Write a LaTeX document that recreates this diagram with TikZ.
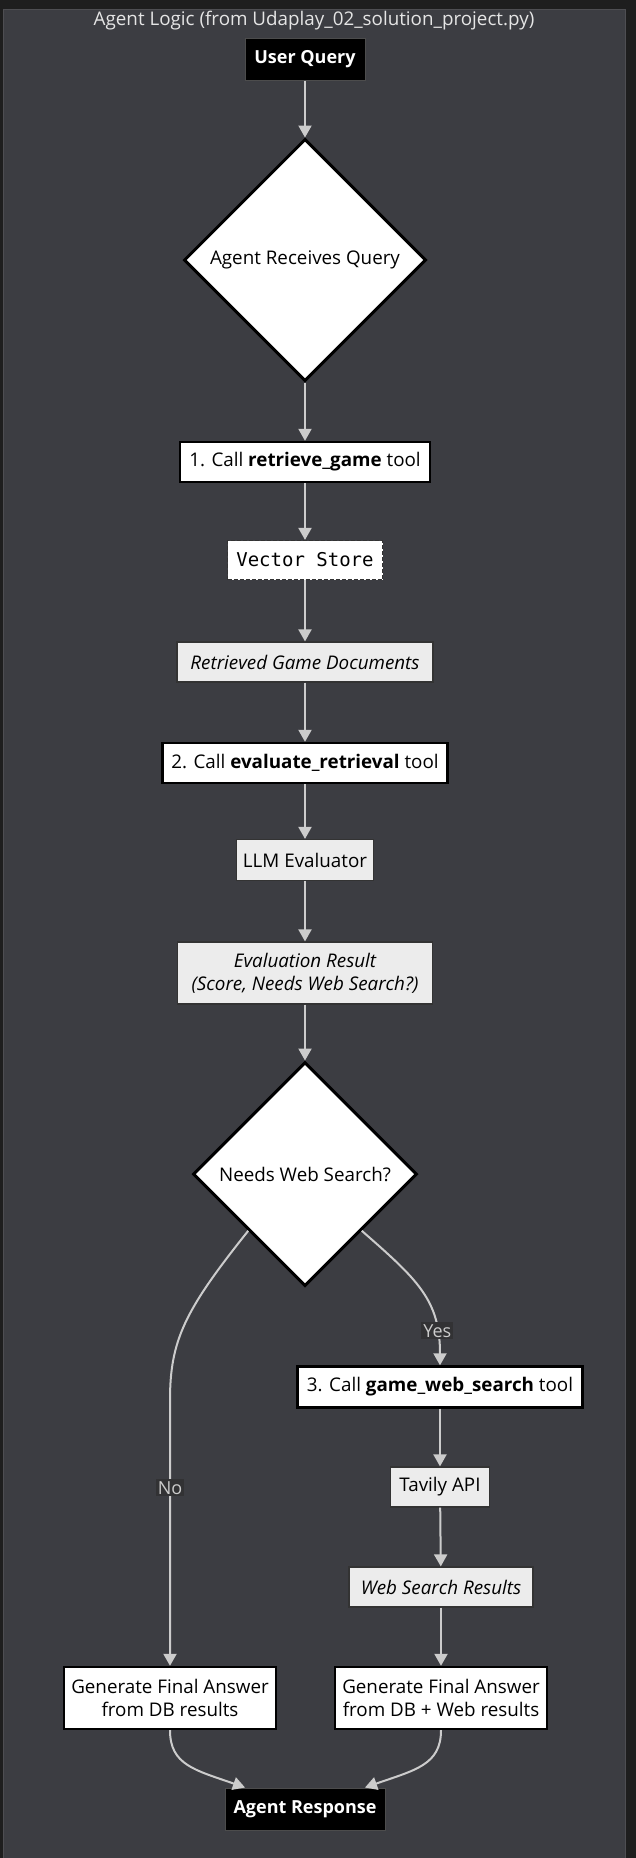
\documentclass[tikz,border=0pt]{standalone}
\usepackage{fontspec}
\setmainfont{Open Sans}
\setmonofont{DejaVu Sans Mono}
\usepackage{tikz}
\usetikzlibrary{shapes.geometric,arrows.meta}

\definecolor{outerbg}{RGB}{30,30,30}
\definecolor{innerbg}{RGB}{60,61,66}
\definecolor{framec}{RGB}{78,78,82}
\definecolor{linec}{RGB}{204,204,204}
\definecolor{datafill}{RGB}{236,236,236}
\definecolor{lblbg}{RGB}{50,50,52}

\begin{document}
\begin{tikzpicture}
    [ x=1pt, y=-1pt, font=\fontsize{18.8}{23}\selectfont,
      every node/.style={align=center, inner sep=0pt},
      step box/.style={draw=black, line width=2.4pt, fill=white, minimum height=40},
      data box/.style={draw=black!80, line width=1.2pt, fill=datafill, minimum height=40},
      term box/.style={draw=black!70, line width=1pt, fill=black, text=white,
                       font=\fontsize{18}{22}\selectfont\bfseries, minimum height=42},
      decision/.style={diamond, aspect=1, draw=black, line width=3pt, fill=white,
                       minimum size=#1},
      flow/.style={draw=linec, line width=2pt, -{Triangle[width=13pt,length=12pt]}},
      lbl/.style={fill=lblbg, text=linec, inner sep=2pt, font=\fontsize{18}{21}\selectfont},
    ]
    % background and frame
    \useasboundingbox (0,0) rectangle (636,1858);
    \fill[outerbg] (0,0) rectangle (636,1858);
    \fill[innerbg] (3.5,9) rectangle (625,1858);
    \draw[framec, line width=1pt] (3.5,1858) -- (3.5,9) -- (625,9) -- (625,1858);
    \node[text=white!90!black] (ttl) at (314,21)
        {Agent Logic (from Udaplay\_02\_solution\_project.py)};

    % main column
    \node[term box, minimum width=120] (uq) at (305,59) {User Query};
    \node[decision=242] (recv) at (305,260) {Agent Receives Query};
    \node[step box, minimum width=250] (ret) at (305,462)
        {1. Call \textbf{retrieve\_game} tool};
    \node[step box, draw=black!80, line width=1.2pt, dash pattern=on 4pt off 2pt,
          minimum width=155, minimum height=39,
          font=\fontsize{19}{22}\selectfont\ttfamily] (vs) at (305,560) {Vector Store};
    \node[data box, minimum width=256, font=\fontsize{18.8}{23}\selectfont\itshape] (docs) at (305,662)
        {Retrieved Game Documents};
    \node[step box, minimum width=285] (eval) at (305,763)
        {2. Call \textbf{evaluate\_retrieval} tool};
    \node[data box, minimum width=137, minimum height=41] (llm) at (305,860) {LLM Evaluator};
    \node[data box, minimum width=255, minimum height=62, font=\fontsize{18.8}{23}\selectfont\itshape]
        (res) at (305,973) {Evaluation Result\\(Score, Needs Web Search?)};
    \node[decision=224] (need) at (305,1174) {Needs Web Search?};

    % web branch
    \node[step box, minimum width=285, minimum height=41] (web) at (440,1387)
        {3. Call \textbf{game\_web\_search} tool};
    \node[data box, minimum width=99] (tav) at (440,1487) {Tavily API};
    \node[data box, minimum width=184, font=\fontsize{18.8}{23}\selectfont\itshape] (wres) at (441,1587)
        {Web Search Results};

    % answers
    \node[step box, minimum width=212, minimum height=62] (ansdb) at (170,1698)
        {Generate Final Answer\\from DB results};
    \node[step box, minimum width=212, minimum height=62] (answeb) at (441,1698)
        {Generate Final Answer\\from DB + Web results};
    \node[term box, minimum width=160] (resp) at (305,1809) {Agent Response};

    \foreach \from/\to in {uq/recv, recv/ret, ret/vs, vs/docs, docs/eval, eval/llm,
                           llm/res, res/need, web/tav, tav/wres, wres/answeb}
        \draw[flow] (\from) -- (\to);

    \draw[flow] (need.south west) .. controls (185,1310) and (170,1340) .. (170,1400)
        -- node[lbl, pos=0.33] {No} (ansdb);
    \draw[flow] (need.south east) .. controls (418,1280) and (440,1300) ..
        node[lbl, pos=0.8] {Yes} (web.north);

    \draw[flow] (ansdb.south) .. controls (170,1765) and (195,1770) .. ([xshift=-60]resp.north);
    \draw[flow] (answeb.south) .. controls (441,1765) and (415,1770) .. ([xshift=60]resp.north);
\end{tikzpicture}
\end{document}
